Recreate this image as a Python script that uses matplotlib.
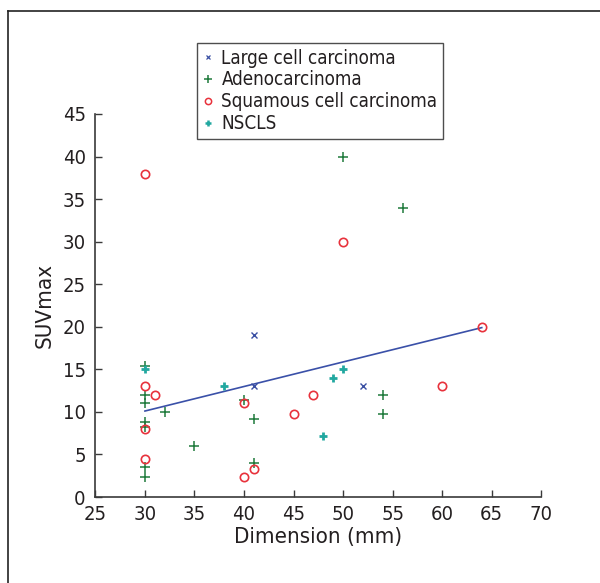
import matplotlib
matplotlib.use("Agg")
import matplotlib.pyplot as plt
from matplotlib.lines import Line2D
from matplotlib import font_manager

# condensed face if one exists, otherwise plain DejaVu Sans
plt.rcParams['font.family'] = ['DejaVu Sans']
plt.rcParams['font.stretch'] = 'condensed'
_f = font_manager.findfont(font_manager.FontProperties(family='DejaVu Sans', stretch='condensed'))
HAS_COND = 'Condensed' in _f
FS_TICK = 14.5 if HAS_COND else 13
FS_LAB  = 16 if HAS_COND else 14
FS_LEG  = 13.5 if HAS_COND else 12

# ── Data ──────────────────────────────────────────────────────────────────────
large_x = [41, 41, 52]
large_y = [19, 13, 13]

adeno_x = [30, 30, 30, 30, 30, 30, 30, 32, 35, 40, 41, 41, 50, 54, 54, 56]
adeno_y = [15.4, 12, 11, 8.8, 8.2, 3.5, 2.4, 10, 6, 11.4, 9.2, 4, 40, 12, 9.8, 34]

squam_x = [30, 30, 30, 30, 31, 40, 40, 41, 45, 47, 50, 60, 64]
squam_y = [38, 13, 8, 4.5, 12, 11, 2.3, 3.3, 9.7, 12, 30, 13, 20]

nscls_x = [30, 38, 48, 49, 50]
nscls_y = [15, 13, 7.2, 14, 15]

fit_x = [30, 64]
fit_y = [10.1, 19.9]

x_ticks = [25, 30, 35, 40, 45, 50, 55, 60, 65, 70]
y_ticks = [0, 5, 10, 15, 20, 25, 30, 35, 40, 45]

# ── Colours ───────────────────────────────────────────────────────────────────
C_LARGE = '#3a4fa3'
C_ADENO = '#1f7a3c'
C_SQUAM = '#e8323c'
C_NSCLS = '#22a8a0'
C_LINE  = '#3a50a8'
C_AXIS  = '#3a3a3a'
C_TEXT  = '#231f20'

fig = plt.figure(figsize=(6.0, 5.83), dpi=100)
ax = fig.add_axes([0.159, 0.1475, 0.743, 0.657])

ax.plot(fit_x, fit_y, color=C_LINE, lw=1.2, zorder=2)
ax.plot(large_x, large_y, 'x', color=C_LARGE, ms=4, mew=1.0, ls='none', zorder=3)
ax.plot(adeno_x, adeno_y, '+', color=C_ADENO, ms=7, mew=1.1, ls='none', zorder=3)
ax.plot(squam_x, squam_y, 'o', mfc='none', mec=C_SQUAM, ms=6, mew=1.2, ls='none', zorder=3)
ax.plot(nscls_x, nscls_y, '+', color=C_NSCLS, ms=6, mew=2.0, ls='none', zorder=3)

ax.set_xlim(25, 70)
ax.set_ylim(0, 45)
ax.set_xticks(x_ticks)
ax.set_yticks(y_ticks)
ax.tick_params(direction='in', length=5, width=1, colors=C_AXIS,
               labelcolor=C_TEXT, labelsize=FS_TICK)
ax.tick_params(axis='x', pad=6)
ax.tick_params(axis='y', pad=7)

for side in ('top', 'right'):
    ax.spines[side].set_visible(False)
for side in ('left', 'bottom'):
    ax.spines[side].set_color(C_AXIS)
    ax.spines[side].set_linewidth(1.2)

ax.set_xlabel('Dimension (mm)', fontsize=FS_LAB, color=C_TEXT, labelpad=2)
ax.set_ylabel('SUVmax', fontsize=FS_LAB, color=C_TEXT, labelpad=6)

handles = [
    Line2D([], [], marker='x', color=C_LARGE, ms=3, mew=0.9, ls='none'),
    Line2D([], [], marker='+', color=C_ADENO, ms=6, mew=1.1, ls='none'),
    Line2D([], [], marker='o', mfc='none', mec=C_SQUAM, ms=4.5, mew=1.1, ls='none'),
    Line2D([], [], marker='+', color=C_NSCLS, ms=5, mew=1.8, ls='none'),
]
labels = ['Large cell carcinoma', 'Adenocarcinoma',
          'Squamous cell carcinoma', 'NSCLS']
leg = fig.legend(handles, labels, loc='upper left',
                 bbox_to_anchor=(197 / 600, 1 - 43 / 583),
                 fontsize=FS_LEG, frameon=True, fancybox=False,
                 handlelength=0.6, handletextpad=0.4, labelspacing=0.15,
                 borderpad=0.3, borderaxespad=0)
leg.get_frame().set_edgecolor('#222222')
leg.get_frame().set_linewidth(1.0)
for t in leg.get_texts():
    t.set_color(C_TEXT)

# outer frame: top and left edges only
fig.add_artist(Line2D([8 / 600, 8 / 600], [0, 1 - 11 / 583],
                      transform=fig.transFigure, color='#222222', lw=1.2))
fig.add_artist(Line2D([8 / 600, 1], [1 - 11 / 583, 1 - 11 / 583],
                      transform=fig.transFigure, color='#222222', lw=1.2))

fig.savefig('out.png', dpi=100, facecolor='white')
